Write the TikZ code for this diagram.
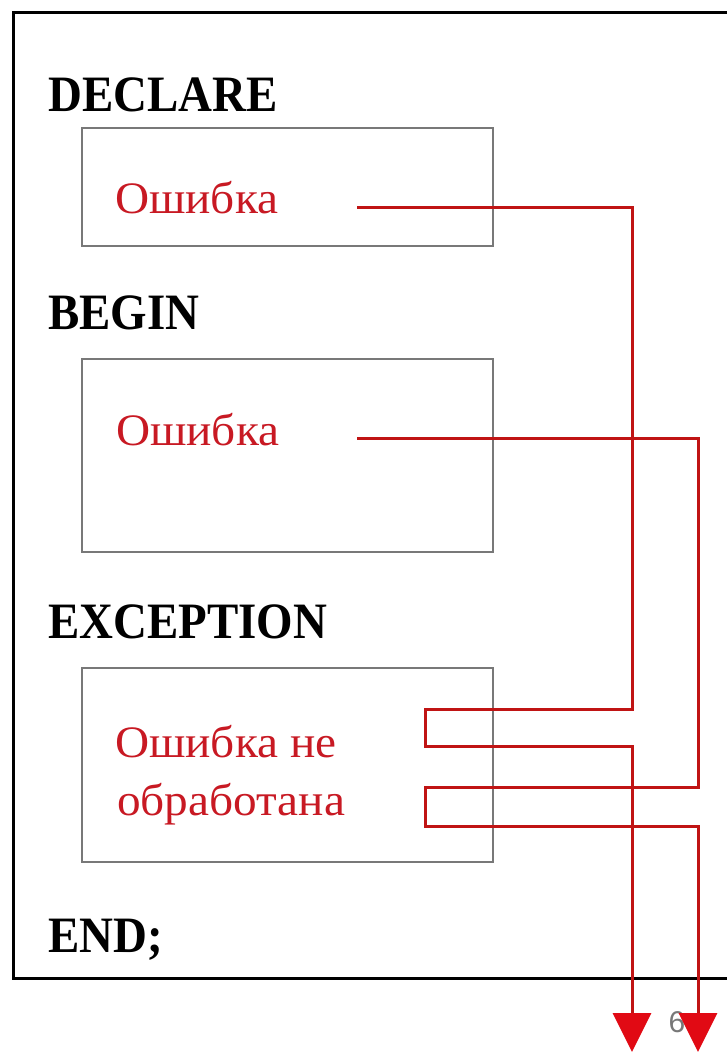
\documentclass[tikz,border=0pt]{standalone}
\usepackage{fontspec}
\setmainfont{Liberation Serif}
\newfontfamily\lblfont[FakeStretch=0.92]{Liberation Serif}
\newfontfamily\errfont[FakeStretch=1.05]{Liberation Serif}
\newfontfamily\numfont{Liberation Sans}
\usetikzlibrary{arrows.meta}
\definecolor{errred}{RGB}{200,25,35}
\definecolor{linered}{RGB}{192,20,20}
\definecolor{tipred}{RGB}{225,10,20}
\definecolor{boxgray}{RGB}{120,120,120}
\tikzset{
  lbl/.style={anchor=base west, inner sep=0pt, font=\lblfont\bfseries\fontsize{51}{51}\selectfont},
  errtxt/.style={anchor=base west, inner sep=0pt, text=errred, font=\errfont\fontsize{45}{45}\selectfont},
  blockbox/.style={draw=boxgray, line width=2pt},
  flow/.style={draw=linered, line width=3pt, line join=miter},
  flowarrow/.style={flow, -{Triangle[width=38pt,length=39pt,color=tipred]}},
}
\begin{document}
\begin{tikzpicture}[x=1pt,y=-1pt]
\useasboundingbox (0,0) rectangle (727,1054);
\fill[white] (0,0) rectangle (727,1054);
% outer frame
\draw[line width=3pt] (740,13) -- (13,13) -- (13,978) -- (740,978);
% blocks
\draw[blockbox] (82,128) rectangle (493,246);
\draw[blockbox] (82,359) rectangle (493,552);
\draw[blockbox] (82,668) rectangle (493,862);
% labels
\node[lbl] (declare) at (48,112) {DECLARE};
\node[lbl] (begin) at (48,329) {BEGIN};
\node[lbl] (exception) at (48,638) {EXCEPTION};
\node[lbl] (end) at (48,952) {END;};
% error texts
\node[errtxt] (err1) at (115,213) {Ошибка};
\node[errtxt] (err2) at (116,445) {Ошибка};
\node[errtxt] (err3a) at (115,757) {Ошибка не};
\node[errtxt] (err3b) at (117,815) {обработана};
% slide number
\node[text=boxgray, font=\numfont\fontsize{30}{30}\selectfont, inner sep=0pt] (num) at (677,1022) {6};
% connector coordinates
\coordinate (s1) at (357,207);
\coordinate (s2) at (357,438);
\coordinate (t1) at (632,1052);
\coordinate (t2) at (698,1052);
% connectors
\draw[flowarrow] (s1) -- (632,207) -- (632,709) -- (425,709) -- (425,746) -- (632,746) -- (t1);
\draw[flowarrow] (s2) -- (698,438) -- (698,787) -- (425,787) -- (425,826) -- (698,826) -- (t2);
\end{tikzpicture}
\end{document}
